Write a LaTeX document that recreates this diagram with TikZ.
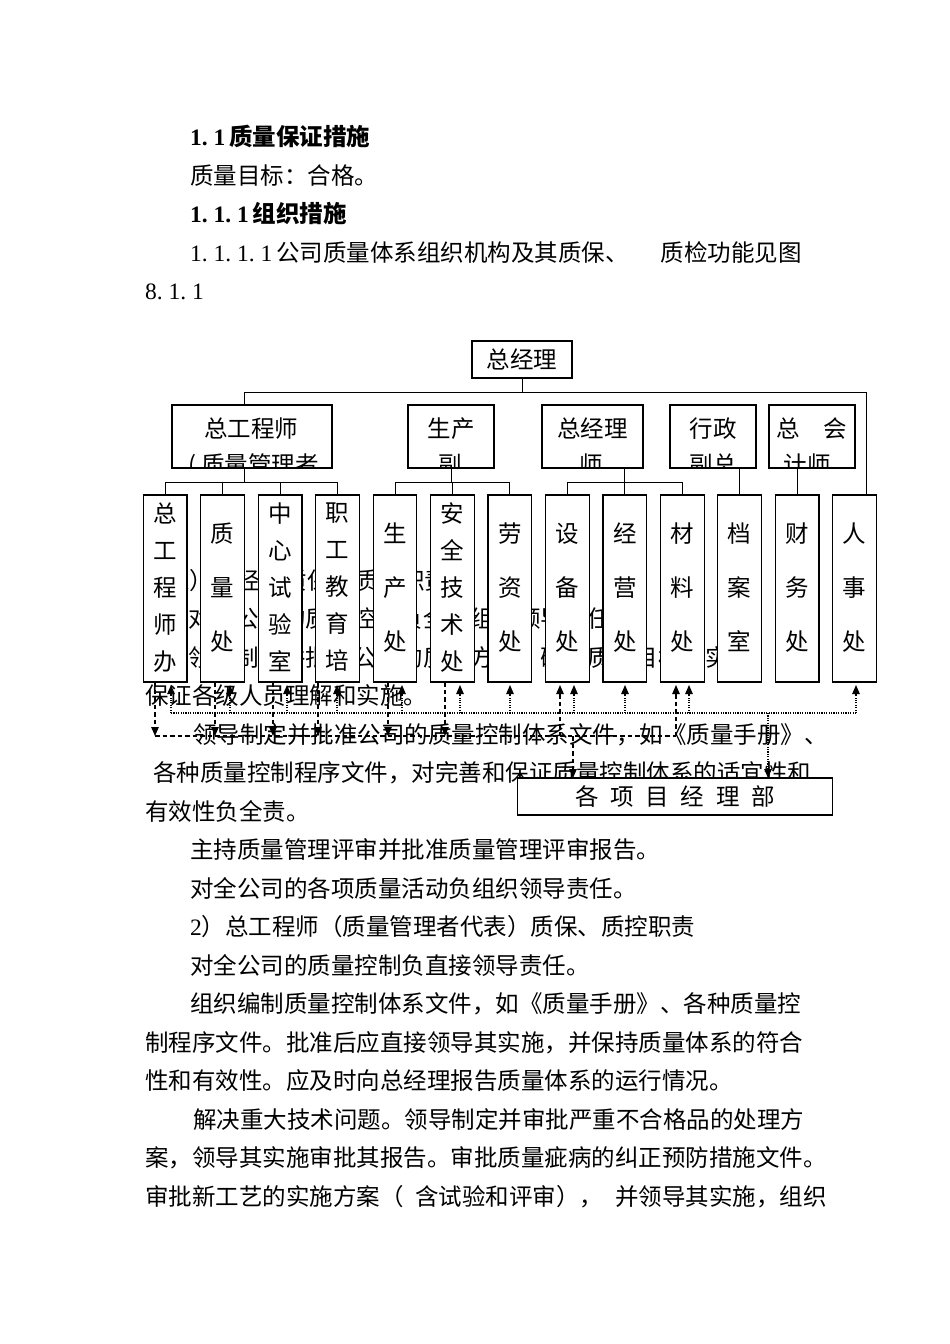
\documentclass[tikz,border=0pt]{standalone}
\usepackage{fontspec}
\setmainfont{Noto Sans CJK SC}
\newfontfamily\ser{Liberation Serif}
\usetikzlibrary{arrows.meta}
\newcommand\hw[1]{\makebox[0.5em][l]{#1}}
\newcommand\hsp{\hspace{0.5em}}
\begin{document}
\begin{tikzpicture}[x=1pt,y=-1pt,
  txt/.style={anchor=base west,inner sep=0pt,font=\fontsize{23.5}{28}\selectfont},
  ctxt/.style={anchor=base,inner sep=0pt,font=\fontsize{23.5}{28}\selectfont},
  box/.style={draw=black,line width=1.2pt,fill=white,inner sep=0pt,outer sep=0pt,font=\fontsize{23.5}{28}\selectfont},
  boxln/.style={draw=black,line width=1.2pt},
  vbox/.style={box,minimum width=43.7pt,minimum height=187pt},
  vt5/.style={align=center,inner sep=0pt,font=\fontsize{23.5}{37}\selectfont},
  vt3/.style={align=center,inner sep=0pt,font=\fontsize{23.5}{54}\selectfont},
  ln/.style={draw=black,line width=1pt},
  dotln/.style={draw=black,line width=1.1pt,dash pattern=on 1.1pt off 1.3pt},
  dashln/.style={draw=black,line width=1.1pt,dash pattern=on 4.5pt off 3pt},
  dotarr/.style={dotln,-{Triangle[length=9pt,width=7.5pt]}},
  dasharr/.style={dashln,-{Triangle[length=9pt,width=7.5pt]}}
]
\path[use as bounding box,fill=white] (0,0) rectangle (950,1344);

% ---- body text ----
\node[txt] (h1) at (190,145) {{\ser\bfseries\hw{1}\hw{.}1}\hspace{4pt}\textbf{质量保证措施}};
\node[txt] (t2) at (190,184) {质量目标：合格。};
\node[txt] (h2) at (190,222.5) {{\ser\bfseries\hw{1}\hw{.}\hw{1}\hw{.}1}\hspace{4pt}\textbf{组织措施}};
\node[txt] (t4) at (190,261) {{\ser\hw{1}\hw{.}\hw{1}\hw{.}\hw{1}\hw{.}\hw{1}}\hspace{4pt}公司质量体系组织机构及其质保、};
\node[txt,anchor=base east] (t4b) at (802,261) {质检功能见图};
\node[txt] (t5) at (145,299.5) {\ser\hw{8}\hw{.}\hw{1}\hw{.}\hw{1}};

\node[txt] (L1) at (178,589) {{\ser 1}）总经理质保、质控职责};
\node[txt] (L2) at (188,627.5) {对全公司的质量控制负全面组织领导责任。};
\node[txt] (L3) at (188,666) {领导制定并批准公司的质量方针，确保质量目标的实施，并};
\node[txt] (L4) at (145,704.5) {保证各级人员理解和实施。};
\node[txt] (L5) at (193,743) {领导制定并批准公司的质量控制体系文件，如《质量手册》、};
\node[txt] (L6) at (153,781.5) {各种质量控制程序文件，对完善和保证质量控制体系的适宜性和};
\node[txt] (L7) at (145,820) {有效性负全责。};
\node[txt] (L8) at (190,858.5) {主持质量管理评审并批准质量管理评审报告。};
\node[txt] (L9) at (190,897) {对全公司的各项质量活动负组织领导责任。};
\node[txt] (L10) at (190,935.5) {{\ser 2}）总工程师（质量管理者代表）质保、质控职责};
\node[txt] (L11) at (190,974) {对全公司的质量控制负直接领导责任。};
\node[txt] (L12) at (190,1012.5) {组织编制质量控制体系文件，如《质量手册》、各种质量控};
\node[txt] (L13) at (145,1051) {制程序文件。批准后应直接领导其实施，并保持质量体系的符合};
\node[txt] (L14) at (145,1089.5) {性和有效性。应及时向总经理报告质量体系的运行情况。};
\node[txt] (L15) at (193,1128) {解决重大技术问题。领导制定并审批严重不合格品的处理方};
\node[txt] (L16) at (145,1166.5) {案，领导其实施审批其报告。审批质量疵病的纠正预防措施文件。};
\node[txt] (L17) at (145,1205) {审批新工艺的实施方案（\hsp 含试验和评审），\hsp 并领导其实施，组织};

% ---- top box ----
\node[box,minimum width=100pt,minimum height=37pt] (gm) at (522,359.5) {总经理};

% ---- second row ----
\node[box,minimum width=160pt,minimum height=63pt] (ra) at (252,436.5) {};
\node[box,minimum width=86pt,minimum height=63pt] (rb) at (451,436.5) {};
\node[box,minimum width=101pt,minimum height=63pt] (rc) at (592.5,436.5) {};
\node[box,minimum width=86pt,minimum height=63pt] (rd) at (713,436.5) {};
\node[box,minimum width=86pt,minimum height=63pt] (re) at (812,436.5) {};
\begin{scope}
  \clip (ra.south west) rectangle (ra.north east)
        (rb.south west) rectangle (rb.north east)
        (rc.south west) rectangle (rc.north east)
        (rd.south west) rectangle (rd.north east)
        (re.south west) rectangle (re.north east);
  \node[ctxt] (ra1) at (251,437) {总工程师};
  \node[txt]  (ra2) at (188,473) {( 质量管理者};
  \node[ctxt] (rb1) at (451,437) {生产};
  \node[ctxt] (rb2) at (450,473) {副};
  \node[ctxt] (rc1) at (592.5,437) {总经理};
  \node[ctxt] (rc2) at (591,473) {师};
  \node[ctxt] (rd1) at (713,437) {行政};
  \node[ctxt] (rd2) at (713,473) {副总};
  \node[ctxt] (re1) at (812,437) {总　会};
  \node[ctxt] (re2) at (807,473) {计师};
\end{scope}
\foreach \n in {ra,rb,rc,rd,re} {\draw[boxln] (\n.south west) rectangle (\n.north east);}

% ---- third row ----
\foreach \i/\t/\k in {0/{总\\工\\程\\师\\办}/5,1/{质\\量\\处}/3,2/{中\\心\\试\\验\\室}/5,
  3/{职\\工\\教\\育\\培}/5,4/{生\\产\\处}/3,5/{安\\全\\技\\术\\处}/5,6/{劳\\资\\处}/3,
  7/{设\\备\\处}/3,8/{经\\营\\处}/3,9/{材\\料\\处}/3,10/{档\\案\\室}/3,11/{财\\务\\处}/3,12/{人\\事\\处}/3}{
  \node[vbox] (b\i) at (165.2+57.45*\i,588.5) {};
  \node[vt\k] (v\i) at (165.2+57.45*\i,587.5) {\t};
}

% ---- tree connectors ----
\coordinate (busL) at (244,392);
\coordinate (busR) at (866,392);
\draw[ln] (gm.south) -- (gm.south |- busL);
\draw[ln] (busL |- ra.north) -- (busL) -- (busR) -- (busR |- b12.north);

\coordinate (g1) at (244,482);
\draw[ln] (g1 |- ra.south) -- (g1);
\draw[ln] (b0.north) -- (b0.north |- g1) -- (b3.north |- g1) -- (b3.north);
\draw[ln] (b1.north) -- (b1.north |- g1);
\draw[ln] (b2.north) -- (b2.north |- g1);
\draw[ln] (rb.south) -- (rb.south |- g1);
\draw[ln] (b4.north) -- (b4.north |- g1) -- (b6.north |- g1) -- (b6.north);
\draw[ln] (b5.north) -- (b5.north |- g1);
\draw[ln] (b8.north |- rc.south) -- (b8.north);
\draw[ln] (b7.north) -- (b7.north |- g1) -- (b9.north |- g1) -- (b9.north);
\draw[ln] (b10.north |- rd.south) -- (b10.north);
\draw[ln] (b11.north |- re.south) -- (b11.north);

% ---- project department ----
\node[box,minimum width=315pt,minimum height=37pt] (pm) at (675,796.5) {各\hsp 项\hsp 目\hsp 经\hsp 理\hsp 部};

% ---- dotted system ----
\coordinate (dotL) at (171,713);
\coordinate (dotR) at (856,713);
\draw[dotln] (dotL) -- (dotR);
\foreach \x/\bi in {171/0,230/1,287/2,337/3,402/4,460/5,510/6,574/7,625/8,689/9,856/12} {
  \coordinate (u\bi) at (\x,713);
  \draw[dotarr] (u\bi) -- ([yshift=-3pt]u\bi |- b\bi.south);
}
\coordinate (pmB) at (768,713);
\draw[dotarr] (pmB) -- (pmB |- pm.north);

% ---- dashed system ----
\coordinate (dshL) at (155,736);
\coordinate (dshR) at (676,736);
\draw[dashln] (dshL) -- (dshR);
\foreach \x/\bi in {155/0,215/1,273/2,318/3,388/4,445/5} {
  \coordinate (d\bi) at (\x,736);
  \draw[dasharr] (d\bi |- b\bi.south) -- (d\bi);
}
\foreach \x/\bi in {560/7,676/9} {
  \coordinate (e\bi) at (\x,736);
  \draw[dasharr] (e\bi) -- ([yshift=-3pt]e\bi |- b\bi.south);
}
\coordinate (pmA) at (573,736);
\draw[dasharr] (pmA) -- (pmA |- pm.north);
\end{tikzpicture}
\end{document}
